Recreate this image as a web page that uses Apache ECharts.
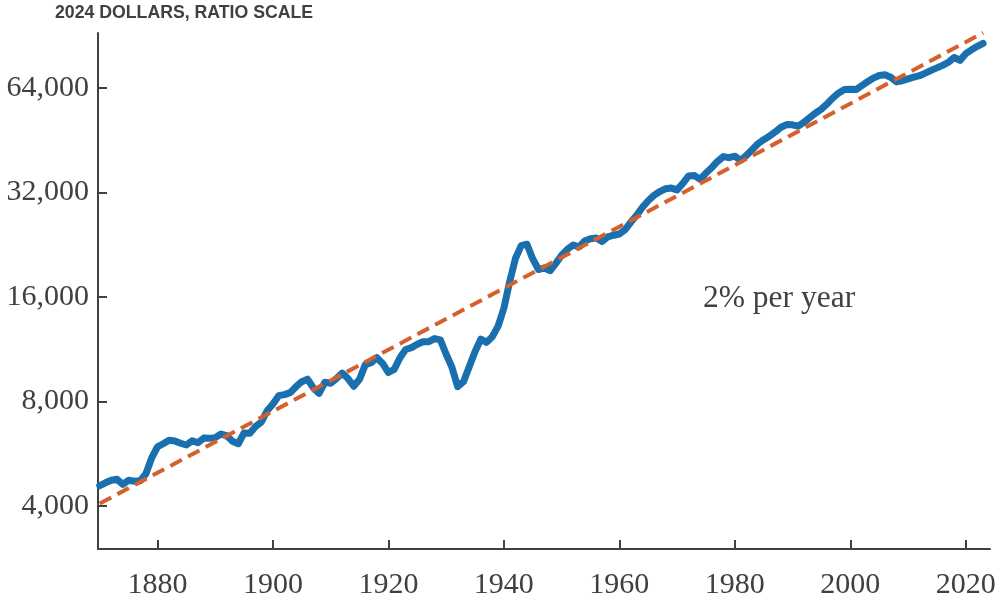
<!DOCTYPE html>
<html>
<head>
<meta charset="utf-8">
<script src="https://cdn.jsdelivr.net/npm/echarts@6/dist/echarts.min.js"></script>
<style>
  html, body { margin: 0; padding: 0; background: #ffffff; }
  #chart { width: 1000px; height: 609px; }
</style>
</head>
<body>
<div id="chart"></div>
<script>
const years = [
  1870,1871,1872,1873,1874,1875,1876,1877,1878,1879,
  1880,1881,1882,1883,1884,1885,1886,1887,1888,1889,
  1890,1891,1892,1893,1894,1895,1896,1897,1898,1899,
  1900,1901,1902,1903,1904,1905,1906,1907,1908,1909,
  1910,1911,1912,1913,1914,1915,1916,1917,1918,1919,
  1920,1921,1922,1923,1924,1925,1926,1927,1928,1929,
  1930,1931,1932,1933,1934,1935,1936,1937,1938,1939,
  1940,1941,1942,1943,1944,1945,1946,1947,1948,1949,
  1950,1951,1952,1953,1954,1955,1956,1957,1958,1959,
  1960,1961,1962,1963,1964,1965,1966,1967,1968,1969,
  1970,1971,1972,1973,1974,1975,1976,1977,1978,1979,
  1980,1981,1982,1983,1984,1985,1986,1987,1988,1989,
  1990,1991,1992,1993,1994,1995,1996,1997,1998,1999,
  2000,2001,2002,2003,2004,2005,2006,2007,2008,2009,
  2010,2011,2012,2013,2014,2015,2016,2017,2018,2019,
  2020,2021,2022,2023
];
const gdpPerCapita = [
  4580,4670,4750,4780,4620,4750,4720,4730,4960,5510,
  5930,6050,6190,6160,6070,6000,6170,6090,6280,6270,
  6300,6450,6380,6150,6050,6500,6490,6780,6990,7530,
  7870,8320,8380,8490,8830,9130,9280,8760,8450,9100,
  9030,9320,9660,9320,8860,9280,10220,10350,10700,10300,
  9700,9900,10700,11300,11440,11700,11900,11900,12150,12050,
  10950,10050,8830,9130,10080,11140,12100,11850,12300,13200,
  14850,17700,20660,22500,22700,20600,19200,19400,19050,20000,
  21100,21950,22600,22300,23200,23550,23650,23130,23850,24100,
  24300,25000,26300,27500,29000,30300,31400,32200,32800,32950,
  32560,34000,35700,35800,34900,36400,37700,39300,40600,40300,
  40700,39600,40900,42500,44200,45400,46500,47800,49300,50200,
  50100,49700,51000,52600,54200,55600,57600,59900,61900,63300,
  63400,63300,65000,66700,68300,69500,69850,68700,66600,67100,
  67950,68700,69400,70600,71900,73100,74300,75900,78300,76800,
  80300,82400,84300,86000
];
// 2% per year trend line, end points
const trendYears = [1870, 2023];
const trendValues = [4070, 92200];

const xTicks = [1880, 1900, 1920, 1940, 1960, 1980, 2000, 2020];
const yTicks = [4000, 8000, 16000, 32000, 64000];

const titleText = '2024 DOLLARS, RATIO SCALE';
const noteText = '2% per year';

const axisColor = '#404040';
const serif = '"Liberation Serif", "Times New Roman", serif';

const chart = echarts.init(document.getElementById('chart'), null, { renderer: 'canvas' });
chart.setOption({
  animation: false,
  backgroundColor: '#ffffff',
  title: {
    text: titleText,
    left: 55, top: 4, padding: 0,
    textStyle: { fontFamily: '"Liberation Sans", Arial, sans-serif', fontWeight: 'bold', fontSize: 17.7, color: axisColor }
  },
  grid: { left: 98, right: 10, top: 33, bottom: 60, containLabel: false },
  xAxis: {
    type: 'value',
    min: 1869.7, max: 2024.2,
    splitLine: { show: false },
    axisLine: { show: true, lineStyle: { color: axisColor, width: 2 } },
    axisTick: { show: true, inside: true, length: 9, customValues: xTicks, lineStyle: { color: axisColor, width: 2 } },
    axisLabel: {
      customValues: xTicks, margin: 21,
      fontFamily: serif, fontSize: 30, color: axisColor,
      formatter: v => String(v)
    }
  },
  yAxis: {
    type: 'log', logBase: 2,
    min: 3011, max: 92100,
    splitLine: { show: false },
    axisLine: { show: true, lineStyle: { color: axisColor, width: 2 } },
    axisTick: { show: true, inside: true, length: 9, customValues: yTicks, lineStyle: { color: axisColor, width: 2 } },
    axisLabel: {
      customValues: yTicks, margin: 9,
      fontFamily: serif, fontSize: 30, color: axisColor,
      formatter: v => Math.round(v).toLocaleString('en-US')
    }
  },
  graphic: [{
    type: 'text', left: 703, top: 283,
    style: { text: noteText, font: '31.5px ' + serif, fill: axisColor }
  }],
  series: [
    {
      type: 'line',
      data: years.map((y, i) => [y, gdpPerCapita[i]]),
      showSymbol: false,
      lineStyle: { color: '#1a6fae', width: 7, cap: 'round', join: 'round' },
      z: 3
    },
    {
      type: 'line',
      data: trendYears.map((y, i) => [y, trendValues[i]]),
      showSymbol: false,
      clip: false,
      lineStyle: { color: '#d5602c', width: 4, type: [13, 7] },
      z: 4
    }
  ]
});
</script>
</body>
</html>
